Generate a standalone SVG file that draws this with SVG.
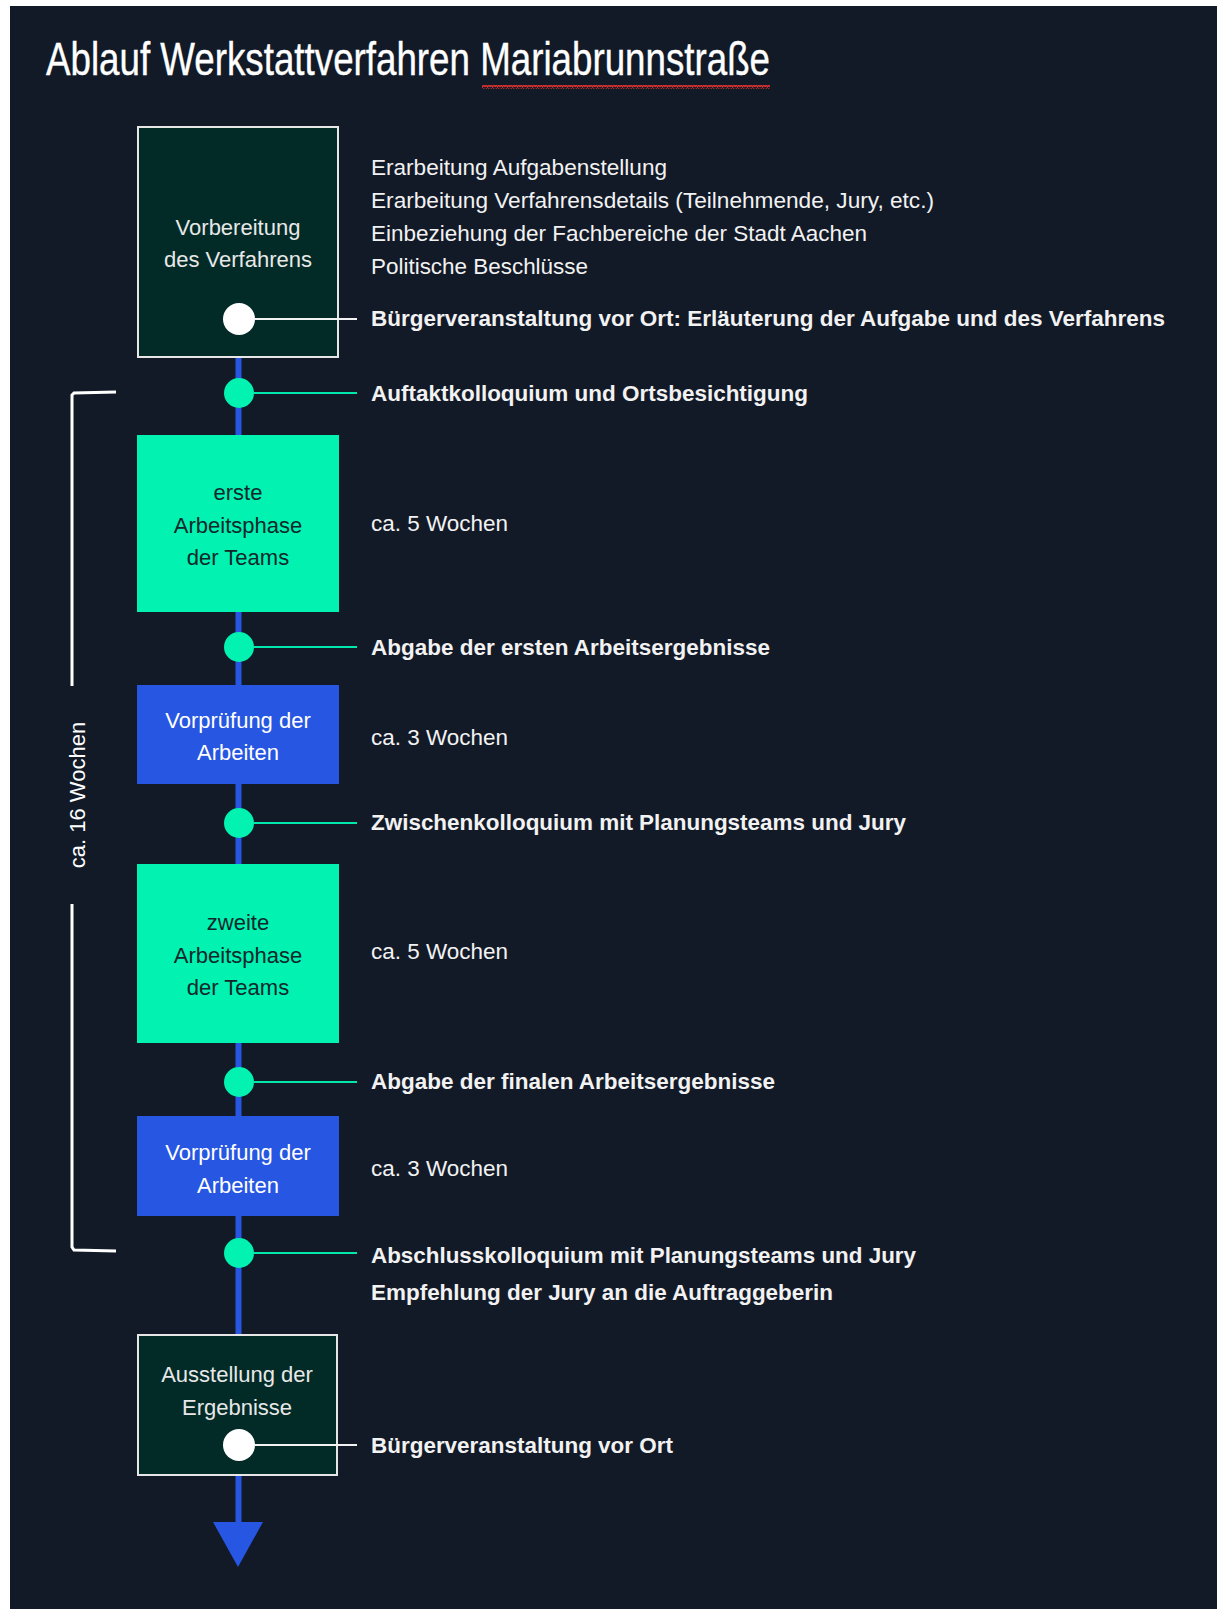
<svg xmlns="http://www.w3.org/2000/svg" width="1217" height="1609" viewBox="0 0 1217 1609">
  <defs>
    <style>
      .t { font-family: "Liberation Sans", Arial, sans-serif; font-size: 22px; fill: #f2f2f2; }
      .b { font-weight: bold; }
      .c { text-anchor: middle; font-family: "Liberation Sans", Arial, sans-serif; font-size: 22px; }
      .dark { fill: #022b27; stroke: #e6e6e6; stroke-width: 2; }
      .green { fill: #02f2b2; }
      .blue { fill: #2656e2; }
      .lw { stroke: #f2f2f2; stroke-width: 2; }
      .lg { stroke: #02e8ac; stroke-width: 2; }
      .dw { fill: #ffffff; }
      .dg { fill: #02f2b2; }
    </style>
    <pattern id="wave" x="0" y="0" width="5" height="4" patternUnits="userSpaceOnUse">
      <path d="M0 3 L1.25 1 L2.5 3 L3.75 1 L5 3" fill="none" stroke="#e0322e" stroke-width="1.3"/>
    </pattern>
  </defs>

  <rect x="0" y="0" width="1217" height="1609" fill="#ffffff"/>
  <rect x="10" y="6" width="1207" height="1603" fill="#121a28"/>

  <text x="46" y="75" font-family="Liberation Sans, Arial, sans-serif" font-size="47" fill="#ffffff" stroke="#ffffff" stroke-width="0.4" textLength="724" lengthAdjust="spacingAndGlyphs">Ablauf Werkstattverfahren Mariabrunnstraße</text>
  <rect x="482" y="85" width="288" height="4" fill="url(#wave)"/>

  <g id="spine">
    <line x1="238.5" y1="357" x2="238.5" y2="1524" stroke="#2656e2" stroke-width="6"/>
    <polygon points="213,1522 263,1522 238,1567" fill="#2656e2"/>
  </g>

  <g id="bracket">
    <path d="M116 392 L74 393 L72 395 L72 686" fill="none" stroke="#ffffff" stroke-width="3"/>
    <path d="M72 904 L72 1247 L74 1250 L116 1251" fill="none" stroke="#ffffff" stroke-width="3"/>
    <text transform="translate(85,795) rotate(-90)" class="c" fill="#ffffff">ca. 16 Wochen</text>
  </g>

  <g id="node-vorbereitung">
    <rect class="dark" x="138" y="127" width="200" height="230"/>
    <text class="c" x="238" y="235" fill="#e8e8e8">Vorbereitung</text>
    <text class="c" x="238" y="267" fill="#e8e8e8">des Verfahrens</text>
    <circle class="dw" cx="239" cy="319" r="16"/>
  </g>
  <g id="text-vorbereitung">
    <text class="t" x="371" y="175" textLength="296" lengthAdjust="spacingAndGlyphs">Erarbeitung Aufgabenstellung</text>
    <text class="t" x="371" y="208" textLength="563" lengthAdjust="spacingAndGlyphs">Erarbeitung Verfahrensdetails (Teilnehmende, Jury, etc.)</text>
    <text class="t" x="371" y="241" textLength="496" lengthAdjust="spacingAndGlyphs">Einbeziehung der Fachbereiche der Stadt Aachen</text>
    <text class="t" x="371" y="274" textLength="217" lengthAdjust="spacingAndGlyphs">Politische Beschlüsse</text>
    <text class="t b" x="371" y="326" textLength="794" lengthAdjust="spacingAndGlyphs">Bürgerveranstaltung vor Ort: Erläuterung der Aufgabe und des Verfahrens</text>
  </g>

  <g id="node-auftakt">
    <circle class="dg" cx="239" cy="393" r="15"/>
    <text class="t b" x="371" y="401" textLength="437" lengthAdjust="spacingAndGlyphs">Auftaktkolloquium und Ortsbesichtigung</text>
  </g>

  <g id="node-erste">
    <rect class="green" x="137" y="435" width="202" height="177"/>
    <text class="c" x="238" y="500" fill="#10282a">erste</text>
    <text class="c" x="238" y="533" fill="#10282a">Arbeitsphase</text>
    <text class="c" x="238" y="565" fill="#10282a">der Teams</text>
    <text class="t" x="371" y="531" textLength="137" lengthAdjust="spacingAndGlyphs">ca. 5 Wochen</text>
  </g>

  <g id="node-abgabe1">
    <circle class="dg" cx="239" cy="647" r="15"/>
    <text class="t b" x="371" y="655" textLength="399" lengthAdjust="spacingAndGlyphs">Abgabe der ersten Arbeitsergebnisse</text>
  </g>

  <g id="node-vorpruefung1">
    <rect class="blue" x="137" y="685" width="202" height="99"/>
    <text class="c" x="238" y="728" fill="#ffffff">Vorprüfung der</text>
    <text class="c" x="238" y="760" fill="#ffffff">Arbeiten</text>
    <text class="t" x="371" y="745" textLength="137" lengthAdjust="spacingAndGlyphs">ca. 3 Wochen</text>
  </g>

  <g id="node-zwischen">
    <circle class="dg" cx="239" cy="823" r="15"/>
    <text class="t b" x="371" y="830" textLength="535" lengthAdjust="spacingAndGlyphs">Zwischenkolloquium mit Planungsteams und Jury</text>
  </g>

  <g id="node-zweite">
    <rect class="green" x="137" y="864" width="202" height="179"/>
    <text class="c" x="238" y="930" fill="#10282a">zweite</text>
    <text class="c" x="238" y="963" fill="#10282a">Arbeitsphase</text>
    <text class="c" x="238" y="995" fill="#10282a">der Teams</text>
    <text class="t" x="371" y="959" textLength="137" lengthAdjust="spacingAndGlyphs">ca. 5 Wochen</text>
  </g>

  <g id="node-abgabe2">
    <circle class="dg" cx="239" cy="1082" r="15"/>
    <text class="t b" x="371" y="1089" textLength="404" lengthAdjust="spacingAndGlyphs">Abgabe der finalen Arbeitsergebnisse</text>
  </g>

  <g id="node-vorpruefung2">
    <rect class="blue" x="137" y="1116" width="202" height="100"/>
    <text class="c" x="238" y="1160" fill="#ffffff">Vorprüfung der</text>
    <text class="c" x="238" y="1193" fill="#ffffff">Arbeiten</text>
    <text class="t" x="371" y="1176" textLength="137" lengthAdjust="spacingAndGlyphs">ca. 3 Wochen</text>
  </g>

  <g id="node-abschluss">
    <circle class="dg" cx="239" cy="1253" r="15"/>
    <text class="t b" x="371" y="1263" textLength="545" lengthAdjust="spacingAndGlyphs">Abschlusskolloquium mit Planungsteams und Jury</text>
    <text class="t b" x="371" y="1300" textLength="462" lengthAdjust="spacingAndGlyphs">Empfehlung der Jury an die Auftraggeberin</text>
  </g>

  <g id="node-ausstellung">
    <rect class="dark" x="138" y="1335" width="199" height="140"/>
    <text class="c" x="237" y="1382" fill="#e8e8e8">Ausstellung der</text>
    <text class="c" x="237" y="1415" fill="#e8e8e8">Ergebnisse</text>
    <circle class="dw" cx="239" cy="1445" r="16"/>
    <text class="t b" x="371" y="1453" textLength="302" lengthAdjust="spacingAndGlyphs">Bürgerveranstaltung vor Ort</text>
  </g>

  <g id="connectors">
    <line class="lw" x1="254" y1="319" x2="357" y2="319"/>
    <line class="lg" x1="253" y1="393" x2="357" y2="393"/>
    <line class="lg" x1="253" y1="647" x2="357" y2="647"/>
    <line class="lg" x1="253" y1="823" x2="357" y2="823"/>
    <line class="lg" x1="253" y1="1082" x2="357" y2="1082"/>
    <line class="lg" x1="253" y1="1253" x2="357" y2="1253"/>
    <line class="lw" x1="254" y1="1445" x2="357" y2="1445"/>
  </g>
</svg>
